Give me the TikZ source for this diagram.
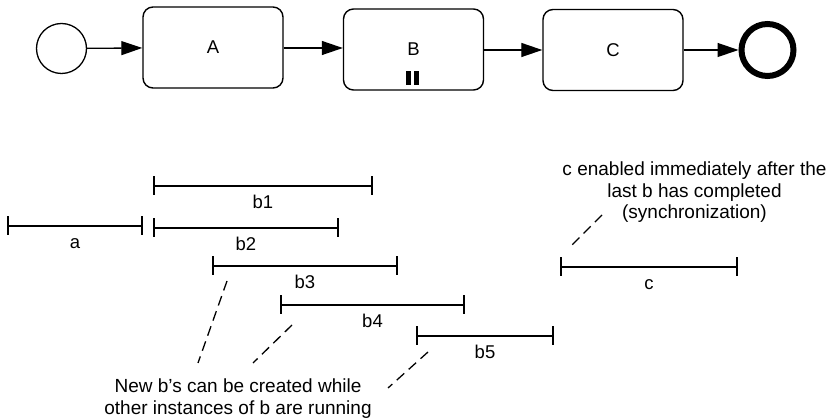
\documentclass[tikz,border=0pt]{standalone}
\usepackage{fontspec}
\setmainfont{Liberation Sans}
\usetikzlibrary{arrows.meta,calc}
\tikzset{
  task/.style={draw, line width=1.4pt, rounded corners=10pt, minimum width=140pt, minimum height=81pt, inner sep=0pt, font=\fontsize{18.5}{21}\selectfont},
  flow/.style={line width=1.3pt, -{Triangle[length=21pt,width=14pt]}},
  span/.style={line width=1.8pt},
  tick/.style={line width=1.8pt},
  lbl/.style={font=\fontsize{18.5}{21.5}\selectfont, inner sep=0pt, anchor=base},
  note/.style={font=\fontsize{19}{21.7}\selectfont, align=center, inner sep=0pt, anchor=north},
  hint/.style={line width=1.3pt, dash pattern=on 10pt off 6pt},
  bar/.style={fill=black, draw=none}
}
\newcommand{\timespan}[5]{% name, x1, x2, y, label
  \coordinate (#1l) at (#2,#4);
  \coordinate (#1r) at (#3,#4);
  \draw[span] (#1l) -- (#1r);
  \draw[tick] ([yshift=9.5pt]#1l) -- ([yshift=-9.5pt]#1l);
  \draw[tick] ([yshift=9.5pt]#1r) -- ([yshift=-9.5pt]#1r);
  \node[lbl] (#1t) at ($(#1l)!0.5!(#1r)+(0,23)$) {#5};
}
\begin{document}
\begin{tikzpicture}[x=1pt,y=-1pt]
\path[use as bounding box] (0,0) rectangle (831,419);
% process
\node[circle, draw, line width=1.3pt, minimum size=50pt, inner sep=0pt] (start) at (61.5,48.5) {};
\node[task] (A) at (213,47.5) {A};
\node[task] (B) at (413.5,49.5) {};
\node[font=\fontsize{18.5}{21}\selectfont, inner sep=0pt] (Bl) at (413.5,49.5) {B};
\node[task] (C) at (613,50) {C};
\node[circle, draw, line width=6pt, minimum size=52pt, inner sep=0pt] (end) at (767.5,50) {};
\fill[bar] (406,71) rectangle (411,85);
\fill[bar] (414,71) rectangle (419,85);
\draw[flow] (start) -- (A);
\draw[flow] (A.east |- 0,48) -- (B.west |- 0,48);
\draw[flow] (B.east |- 0,50) -- (C.west |- 0,50);
\draw[flow] (C) -- (end);
% timeline
\timespan{sb1}{154}{372}{186}{b1}
\timespan{sa}{8}{142}{226}{a}
\timespan{sb2}{154}{338}{228}{b2}
\timespan{sb3}{213}{397}{266}{b3}
\timespan{sb4}{281}{464}{305}{b4}
\timespan{sb5}{417}{553}{336}{b5}
\timespan{sc}{561}{737}{267}{c}
% notes
\node[note] (n1) at (694.5,161.5) {c enabled immediately after the\\last b has completed\\(synchronization)};
\node[note] (n2) at (238,378.5) {New b’s can be created while\\other instances of b are running};
\coordinate (h1a) at (227,281); \coordinate (h1b) at (198,363);
\coordinate (h2a) at (292,325); \coordinate (h2b) at (253,363);
\coordinate (h3a) at (428,352); \coordinate (h3b) at (388,388);
\coordinate (h4a) at (602,215); \coordinate (h4b) at (570,247);
\draw[hint] (h1a) -- (h1b);
\draw[hint] (h2a) -- (h2b);
\draw[hint] (h3a) -- (h3b);
\draw[hint] (h4a) -- (h4b);
\end{tikzpicture}
\end{document}
